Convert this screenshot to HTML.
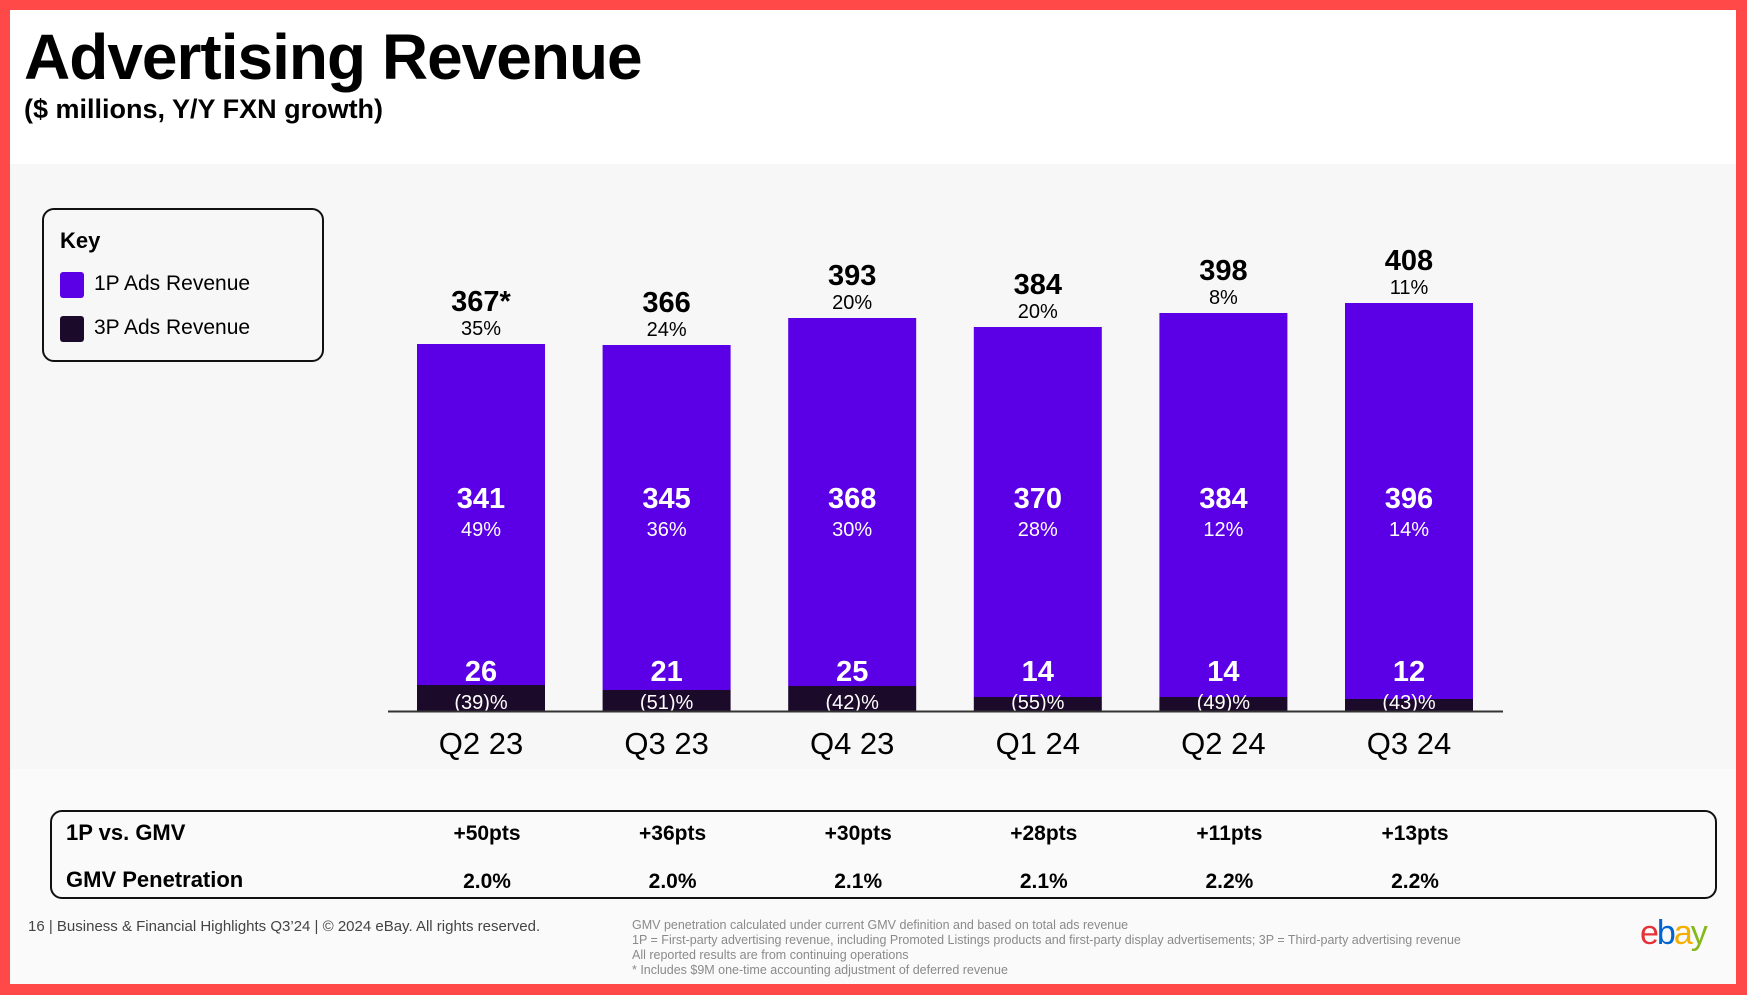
<!DOCTYPE html>
<html><head><meta charset="utf-8"><style>
html,body{margin:0;padding:0}
body{width:1747px;height:995px;position:relative;overflow:hidden;background:#ff4848;font-family:"Liberation Sans",sans-serif}
#page{position:absolute;left:10px;top:10px;width:1726px;height:974px;background:#f7f7f7;overflow:hidden}
.t{position:absolute;white-space:nowrap}
</style></head><body>
<div id="page">
<div style="position:absolute;left:0;top:0;width:1726px;height:154px;background:#fff"></div>
<div style="position:absolute;left:0;top:759px;width:1726px;height:215px;background:#fafafa"></div>
<div class="t" style="left:14px;top:10px;font-size:64px;font-weight:bold;letter-spacing:-1px;color:#000">Advertising Revenue</div>
<div class="t" style="left:14px;top:84px;font-size:27px;font-weight:bold;color:#000">($ millions, Y/Y FXN growth)</div>
<div style="position:absolute;left:32px;top:198px;width:282px;height:154px;border:2px solid #111;border-radius:12px;box-sizing:border-box">
<div class="t" style="left:16px;top:18px;font-size:22px;font-weight:bold">Key</div>
<div style="position:absolute;left:16px;top:62px;width:24px;height:26px;border-radius:3px;background:#5b00e6"></div>
<div class="t" style="left:50px;top:62px;font-size:21px">1P Ads Revenue</div>
<div style="position:absolute;left:16px;top:106px;width:24px;height:26px;border-radius:3px;background:#1c0a2b"></div>
<div class="t" style="left:50px;top:106px;font-size:21px">3P Ads Revenue</div>
</div>
<div style="position:absolute;left:40px;top:800px;width:1667px;height:89px;border:2px solid #111;border-radius:12px;box-sizing:border-box"></div>
<div class="t" style="left:56px;top:810px;font-size:22px;font-weight:bold">1P vs. GMV</div>
<div class="t" style="left:56px;top:857px;font-size:22px;font-weight:bold">GMV Penetration</div>
<svg id="chart" width="1726" height="974" style="position:absolute;left:0;top:0"></svg>
<div class="t" style="left:18px;top:908px;font-size:15px;color:#444">16 | Business &amp; Financial Highlights Q3’24 | © 2024 eBay. All rights reserved.</div>
<div style="position:absolute;left:622px;top:908px;font-size:12.5px;line-height:15px;color:#8a8a8a;white-space:nowrap">GMV penetration calculated under current GMV definition and based on total ads revenue<br>1P = First-party advertising revenue, including Promoted Listings products and first-party display advertisements; 3P = Third-party advertising revenue<br>All reported results are from continuing operations<br>* Includes $9M one-time accounting adjustment of deferred revenue</div>
<div class="t" style="left:1630px;top:904px;font-size:34px;letter-spacing:-2px"><span style="color:#e53238">e</span><span style="color:#0064d2">b</span><span style="color:#f5af02">a</span><span style="color:#86b817">y</span></div>
</div>
<script>
const categories=["Q2 23","Q3 23","Q4 23","Q1 24","Q2 24","Q3 24"];
const totals=["367*","366","393","384","398","408"];
const totalGrowth=["35%","24%","20%","20%","8%","11%"];
const onePValues=[341,345,368,370,384,396];
const onePGrowth=["49%","36%","30%","28%","12%","14%"];
const threePValues=[26,21,25,14,14,12];
const threePGrowth=["(39)%","(51)%","(42)%","(55)%","(49)%","(43)%"];
const vsGmv=["+50pts","+36pts","+30pts","+28pts","+11pts","+13pts"];
const gmvPen=["2.0%","2.0%","2.1%","2.1%","2.2%","2.2%"];
const NS="http://www.w3.org/2000/svg";
const chartSvg=document.getElementById('chart');
const baseY=701, scaleY=1.0;
const xC=i=>471+i*185.6;
const yS=v=>baseY-v*scaleY;
const bw=128;
function txt(x,yy,s,size,w,fill,name){const t=document.createElementNS(NS,'text');t.setAttribute('x',x);t.setAttribute('y',yy);t.setAttribute('text-anchor','middle');t.setAttribute('font-size',size);t.setAttribute('font-weight',w);t.setAttribute('fill',fill);t.setAttribute('font-family','Liberation Sans, sans-serif');t.textContent=s;


chartSvg.appendChild(t);}
categories.forEach((c,i)=>{
 const tot=onePValues[i]+threePValues[i];
 const x=xC(i)-bw/2;
 const r1=document.createElementNS(NS,'rect');r1.setAttribute('x',x);r1.setAttribute('width',bw);r1.setAttribute('y',yS(tot));r1.setAttribute('height',onePValues[i]*scaleY);r1.setAttribute('fill','#5b00e6');
 
 
 chartSvg.appendChild(r1);
 const r2=document.createElementNS(NS,'rect');r2.setAttribute('x',x);r2.setAttribute('width',bw);r2.setAttribute('y',yS(threePValues[i]));r2.setAttribute('height',threePValues[i]*scaleY);r2.setAttribute('fill','#1c0a2b');
 
 
 chartSvg.appendChild(r2);
 txt(xC(i),yS(tot)-33,totals[i],29,'bold','#000','total-value');
 txt(xC(i),yS(tot)-9,totalGrowth[i],20,'normal','#000','total-growth');
 txt(xC(i),498,onePValues[i],29,'bold','#fff','1p-value');
 txt(xC(i),526,onePGrowth[i],20,'normal','#fff','1p-growth');
 txt(xC(i),671,threePValues[i],29,'bold','#fff','3p-value');
 txt(xC(i),699,threePGrowth[i],20,'normal','#fff','3p-growth');
 txt(xC(i),744,c,31,'normal','#000','x-axis-label');
 txt(xC(i)+6,830,vsGmv[i],21,'bold','#000','1p-vs-gmv-value');
 txt(xC(i)+6,878,gmvPen[i],21,'bold','#000','gmv-penetration-value');
});
const ax=document.createElementNS(NS,'line');ax.setAttribute('x1',378);ax.setAttribute('x2',1493);ax.setAttribute('y1',baseY+0.5);ax.setAttribute('y2',baseY+0.5);ax.setAttribute('stroke','#333');ax.setAttribute('stroke-width',2);


chartSvg.appendChild(ax);
</script>
</body></html>
